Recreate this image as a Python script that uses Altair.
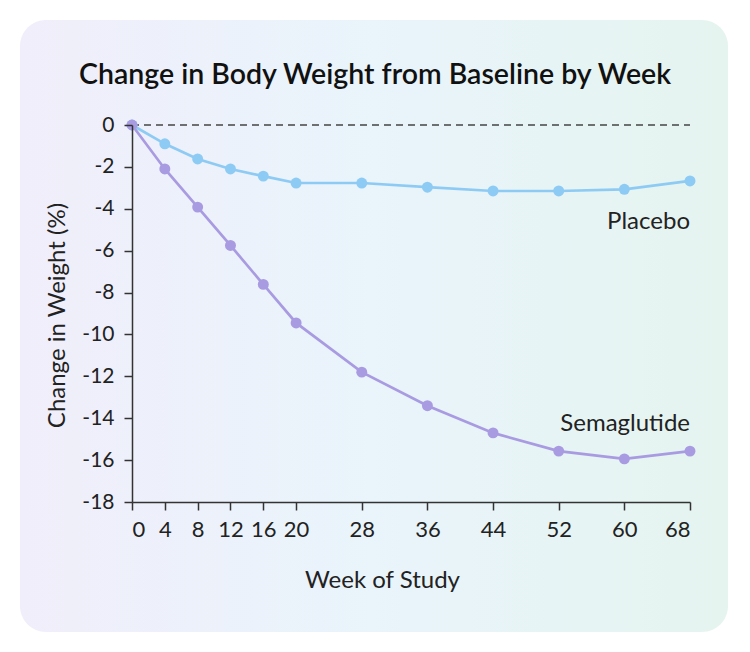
import altair as alt
import pandas as pd

weeks = [0, 4, 8, 12, 16, 20, 28, 36, 44, 52, 60, 68]
placebo = [0, -0.9, -1.62, -2.1, -2.44, -2.77, -2.77, -2.97, -3.15, -3.15, -3.07, -2.67]
semaglutide = [0, -2.1, -3.92, -5.75, -7.61, -9.45, -11.8, -13.4, -14.7, -15.57, -15.94, -15.57]
series_names = ["Placebo", "Semaglutide"]
series_colors = ["#8ecbf4", "#a99be1"]
x_ticks = weeks
y_ticks = list(range(-18, 1, 2))
title_text = ["Change in Body Weight from Baseline by Week"]

rows = []
for w, p, s in zip(weeks, placebo, semaglutide):
    rows.append({"week": w, "value": p, "series": "Placebo"})
    rows.append({"week": w, "value": s, "series": "Semaglutide"})
df = pd.DataFrame(rows)

FONT = "Lato"
W, H = 558, 377

color = alt.Color("series:N", scale=alt.Scale(domain=series_names, range=series_colors), legend=None)
xenc = alt.X("week:Q", scale=alt.Scale(domain=[0, 68], nice=False, zero=False),
             axis=alt.Axis(values=x_ticks, title="Week of Study", titleX=250, titleAnchor="middle",
                           titleAlign="center", titleY=78, titleBaseline="middle",
                           labelPadding=9, labelFontSize=22, tickSize=8, grid=False, zindex=1))
yenc = alt.Y("value:Q", scale=alt.Scale(domain=[-18, 0], nice=False),
             axis=alt.Axis(values=y_ticks, title="Change in Weight (%)", labelExpr="'' + datum.value",
                           tickSize=8, labelPadding=10, labelFontSize=21, titleX=-75, titleY=190,
                           titleAngle=270, titleAlign="center", titleBaseline="middle",
                           grid=False, zindex=1))

bg_df = pd.DataFrame({"k": [1]})
background = alt.Chart(bg_df).mark_rect(
    cornerRadius=26,
    color=alt.LinearGradient(
        gradient="linear", x1=0, x2=1, y1=0, y2=0,
        stops=[alt.GradientStop(color="#f0eefa", offset=0),
               alt.GradientStop(color="#e9f4fb", offset=0.5),
               alt.GradientStop(color="#e5f4ef", offset=1)]),
).encode(x=alt.value(-112), x2=alt.value(596), y=alt.value(-105), y2=alt.value(507))

title_df = pd.DataFrame({"t": title_text})
title = alt.Chart(title_df).mark_text(
    align="center", baseline="middle", fontSize=28.5, font=FONT, fontWeight=600, color="#111111"
).encode(x=alt.value(243), y=alt.value(-50), text="t:N")

zero_df = pd.DataFrame({"a": [0], "b": [68], "y": [0]})
zero_rule = alt.Chart(zero_df).mark_rule(color="#444444", strokeDash=[7, 5], strokeWidth=1.5).encode(
    x=alt.X("a:Q", scale=alt.Scale(domain=[0, 68], nice=False)), x2="b:Q", y="y:Q")

base = alt.Chart(df)
lines = base.mark_line(strokeWidth=2.7).encode(x=xenc, y=yenc, color=color)
points = base.mark_circle(size=120, opacity=1).encode(x="week:Q", y="value:Q", color=color)

last = df[df["week"] == 68]
lab_p = alt.Chart(last[last["series"] == "Placebo"]).mark_text(
    align="right", baseline="middle", dy=41, fontSize=24, font=FONT, color="#222222").encode(
    x="week:Q", y="value:Q", text="series:N")
lab_s = alt.Chart(last[last["series"] == "Semaglutide"]).mark_text(
    align="right", baseline="middle", dy=-27, fontSize=24, font=FONT, color="#222222").encode(
    x="week:Q", y="value:Q", text="series:N")

chart = alt.layer(background, title, zero_rule, lines, points, lab_p, lab_s).properties(
    width=W, height=H,
    background="white",
    autosize=alt.AutoSizeParams(type="none"),
    padding={"left": 124, "top": 117, "right": 52, "bottom": 142},
).configure_view(stroke=None).configure_axis(
    domainColor="#333333", domainWidth=1.5, tickColor="#333333", tickWidth=1.5,
    labelFont=FONT, labelColor="#222222",
    titleFont=FONT, titleFontSize=24, titleFontWeight="normal", titleColor="#222222",
)

chart.save("out.html", embed_options={"renderer": "svg", "actions": False})
